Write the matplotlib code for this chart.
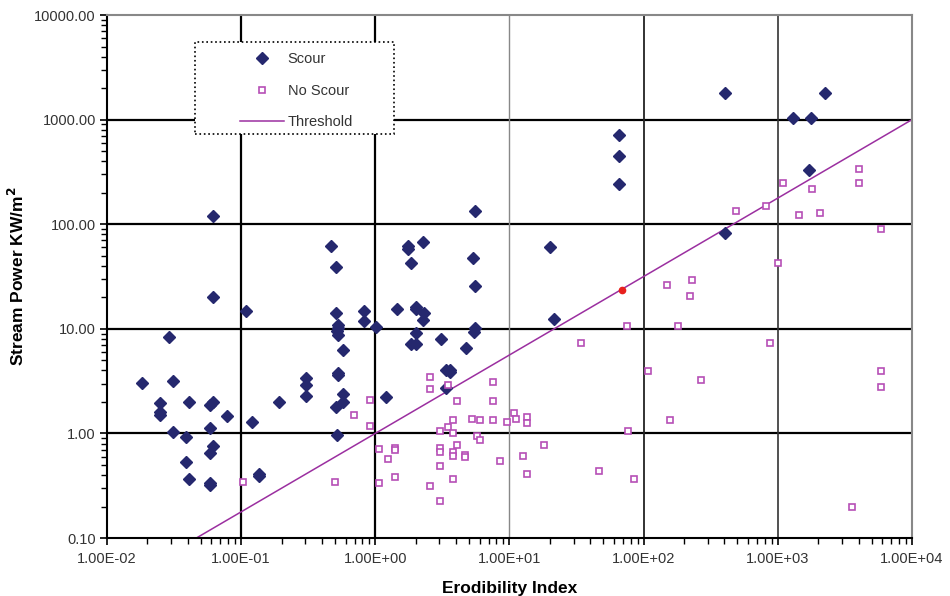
import matplotlib
matplotlib.use("Agg")
import matplotlib.pyplot as plt
from matplotlib.patches import Rectangle
from matplotlib.ticker import FixedLocator, FuncFormatter, LogLocator, NullFormatter

plt.rcParams['font.family'] = ['Liberation Sans', 'DejaVu Sans']

# Scour observations (erodibility index, stream power)
scour_x = [0.0183, 0.0248, 0.0248, 0.0248, 0.0288, 0.0308, 0.0308, 0.039, 0.0412, 0.039,
           0.0412, 0.0581, 0.0615, 0.0581, 0.0615, 0.0581, 0.0581, 0.0581, 0.0615, 0.0615,
           0.0778, 0.109, 0.1196, 0.1355, 0.1355, 0.193, 0.306, 0.306, 0.306, 0.464,
           0.506, 0.506, 0.526, 0.526, 0.52, 0.53, 0.573, 0.526, 0.526, 0.573,
           0.573, 0.506, 0.521, 0.822, 0.822, 1.01, 1.21, 1.46, 1.75, 1.75,
           1.84, 2.26, 1.85, 2.0, 2.0, 2.0, 2.29, 2.26, 2.0, 3.1,
           3.34, 3.62, 3.62, 3.34, 4.77, 5.53, 5.53, 5.41, 5.53, 5.34,
           19.9, 21.4, 65.2, 65.2, 65.2, 402, 2229, 1300, 1762, 1711, 402]
scour_y = [3.05, 1.97, 1.61, 1.50, 8.3, 3.17, 1.03, 0.93, 2.0, 0.537,
           0.364, 1.86, 2.0, 1.12, 0.763, 0.654, 0.333, 0.324, 119.7, 20.3,
           1.47, 14.9, 1.29, 0.409, 0.39, 2.0, 3.39, 2.90, 2.28, 61.9,
           39.2, 14.3, 10.9, 10.2, 9.6, 8.67, 6.27, 3.78, 3.62, 2.37,
           2.01, 1.78, 0.966, 14.9, 11.9, 10.5, 2.24, 15.6, 62.0, 57.5,
           42.3, 67.1, 7.16, 7.16, 16.1, 15.4, 14.3, 12.1, 9.06, 8.04,
           4.04, 4.04, 3.86, 2.72, 6.56, 25.7, 10.1, 9.38, 134.6, 47.8,
           60.2, 12.3, 713, 449, 242, 1807, 1807, 1029, 1029, 330, 81.8]

# No scour observations
noscour_x = [0.104, 0.500, 0.689, 0.919, 0.919, 1.064, 1.064, 1.39, 1.39, 1.24,
             1.39, 2.55, 2.55, 2.55, 3.05, 3.05, 3.05, 3.05, 3.05, 3.48,
             3.48, 3.79, 3.79, 3.79, 3.79, 3.79, 4.04, 4.04, 4.69, 4.69,
             5.29, 5.76, 6.07, 6.07, 7.49, 7.49, 7.49, 8.55, 9.58, 10.8,
             11.2, 13.4, 13.4, 12.6, 13.4, 18.1, 34.4, 46.2, 75.2, 76.1,
             84.8, 108, 148, 157, 179, 222, 228, 267, 489, 813,
             867, 1000, 1095, 1442, 1783, 2067, 4000, 4000, 3564, 5865,
             5865, 5865]
noscour_y = [0.343, 0.343, 1.49, 2.09, 1.19, 0.714, 0.338, 0.73, 0.70, 0.566,
             0.386, 3.48, 2.66, 0.316, 1.05, 0.721, 0.66, 0.488, 0.224, 2.88,
             1.14, 1.33, 1.02, 0.664, 0.608, 0.369, 2.03, 0.775, 0.622, 0.59,
             1.38, 0.95, 0.865, 1.33, 3.1, 2.03, 1.33, 0.545, 1.29, 1.56,
             1.38, 1.44, 1.26, 0.612, 0.409, 0.775, 7.31, 0.434, 10.7, 1.05,
             0.369, 3.95, 26.1, 1.33, 10.7, 20.7, 29.3, 3.24, 135, 148,
             7.31, 43.0, 246, 122, 218, 129, 335, 246, 0.199, 89.9,
             3.95, 2.76]

# Point on threshold
red_x = [68.7]
red_y = [23.5]

thresh_x = [0.0464, 10000]
thresh_y = [0.1, 1000]

x_ticks = [1e-2, 1e-1, 1e0, 1e1, 1e2, 1e3, 1e4]
y_ticks = [0.1, 1, 10, 100, 1000, 10000]

fig = plt.figure(figsize=(9.5, 5.96), dpi=100)
ax = fig.add_axes([0.1126, 0.0973, 0.8474, 0.8775])
ax.set_xscale('log')
ax.set_yscale('log')
ax.set_xlim(1e-2, 1e4)
ax.set_ylim(0.1, 10000)

# grid lines, drawn by hand so each can get its own shade like the original
for yv in y_ticks[1:-1]:
    ax.axhline(yv, color='black', lw=1.6, zorder=1)
vgrid = {1e-1: ('black', 1.6), 1e0: ('black', 1.6), 1e1: ('#888888', 1.0),
         1e2: ('#222222', 1.3), 1e3: ('#333333', 1.2)}
for xv, (c, w) in vgrid.items():
    ax.axvline(xv, color=c, lw=w, zorder=1)

ax.plot(thresh_x, thresh_y, color='#9b2fa0', lw=1.1, label='Threshold', zorder=2)
ax.plot(scour_x, scour_y, linestyle='none', marker='D', markersize=5.8,
        color='#25286e', label='Scour', zorder=3)
ax.plot(noscour_x, noscour_y, linestyle='none', marker='s', markersize=5,
        markerfacecolor='white', markeredgecolor='#b64fb6', markeredgewidth=1.2,
        label='No Scour', zorder=3)
ax.plot(red_x, red_y, linestyle='none', marker='o', markersize=4.5,
        color='#e8201e', zorder=4)

ax.xaxis.set_major_locator(FixedLocator(x_ticks))
ax.yaxis.set_major_locator(FixedLocator(y_ticks))
ax.xaxis.set_minor_locator(LogLocator(base=10, subs=range(2, 10), numticks=20))
ax.yaxis.set_minor_locator(LogLocator(base=10, subs=range(2, 10), numticks=20))
ax.xaxis.set_minor_formatter(NullFormatter())
ax.yaxis.set_minor_formatter(NullFormatter())
ax.xaxis.set_major_formatter(FuncFormatter(
    lambda v, p: ('%.2E' % v).replace('E-0', 'E-').replace('E+0', 'E+')
    .replace('E-', 'E-0').replace('E+', 'E+0')))
ax.yaxis.set_major_formatter(FuncFormatter(lambda v, p: '%.2f' % v))
ax.tick_params(which='major', direction='out', length=5, width=1.2,
               labelsize=10.5, labelcolor='#333333')
ax.tick_params(axis='x', which='major', pad=5)
ax.tick_params(axis='y', which='major', pad=3)
ax.tick_params(which='minor', direction='out', length=4, width=1.0)

for s in ['left', 'bottom']:
    ax.spines[s].set_color('black')
    ax.spines[s].set_linewidth(1.5)
for s in ['top', 'right']:
    ax.spines[s].set_color('#888888')
    ax.spines[s].set_linewidth(1.5)

ax.set_xlabel('Erodibility Index', fontsize=12.5, fontweight='bold', labelpad=11)
ax.set_ylabel('Stream Power KW/m$^\\mathbf{2}$', fontsize=12.5, fontweight='bold', labelpad=5)

# legend: dotted frame drawn separately so its padding matches the original
frame = Rectangle((195 / 950, 1 - 134 / 596), 199 / 950, 92 / 596,
                  transform=fig.transFigure, facecolor='white', edgecolor='black',
                  linestyle=':', linewidth=1.2, zorder=5)
fig.patches.append(frame)
handles, labels = ax.get_legend_handles_labels()
order = [1, 2, 0]
leg = fig.legend([handles[i] for i in order], [labels[i] for i in order],
                 loc='upper left', bbox_to_anchor=(236 / 950, 1 - 48 / 596),
                 fontsize=10.5, labelspacing=1.2, handlelength=3.0,
                 handletextpad=0.25, borderpad=0.3, borderaxespad=0,
                 frameon=False)
for t in leg.get_texts():
    t.set_color('#333333')
leg.set_zorder(6)

fig.savefig('out.png', dpi=100)
